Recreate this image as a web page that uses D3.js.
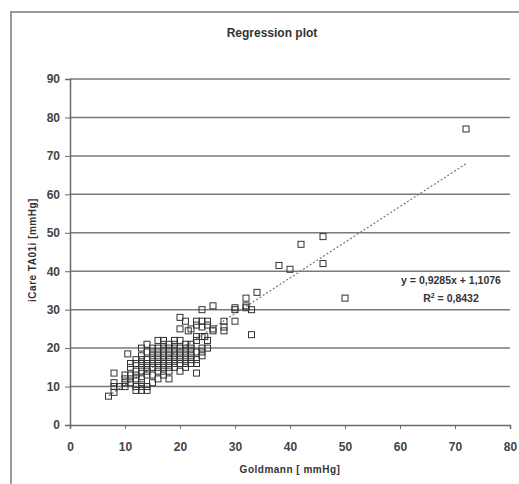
<!DOCTYPE html>
<html lang="en">
<head>
  <meta charset="UTF-8">
  <title>Regression plot</title>
  <style>
    body { margin: 0; background: #fff; }
    text { font-family: "Liberation Sans", Arial, sans-serif; fill: #333; }
    .tick text { font-size: 12px; font-weight: bold; fill: #444; }
  </style>
</head>
<body>
  <div id="app"></div>
  <script src="https://cdn.jsdelivr.net/npm/d3@7"></script>
  <script>
    // Goldmann (x) vs iCare TA01i (y)
    const goldmann = [
      7, 8, 8, 8, 8, 9, 10, 10, 10, 10, 10.5,
      11, 11, 11, 11, 11, 12, 12, 12, 12, 12, 12, 12,
      13, 13, 13, 13, 13, 13, 13, 13, 13, 13,
      14, 14, 14, 14, 14, 14, 14, 14, 14,
      15, 15, 15, 15, 15, 15, 15, 15,
      16, 16, 16, 16, 16, 16, 16, 16, 16,
      17, 17, 17, 17, 17, 17, 17, 17, 17, 17,
      18, 18, 18, 18, 18, 18, 18, 18, 18,
      19, 19, 19, 19, 19, 19, 19, 19,
      20, 20, 20, 20, 20, 20, 20, 20, 20,
      21, 21, 21, 21, 21, 21, 21, 21, 21.5,
      22, 22, 22, 22, 22, 22, 22,
      23, 23, 23, 23, 23, 23, 23, 23,
      24, 24, 24, 24, 24, 24, 24, 24.5,
      25, 25, 25, 25, 26, 26, 26,
      28, 28, 28, 30, 30, 30, 32, 32, 32, 33, 33,
      34, 38, 40, 42, 46, 46, 50, 72
    ]
    const icare = [
      7.5, 8.5, 10, 11, 13.5, 10, 10, 11, 12, 13, 18.5,
      11, 12, 13, 15, 16, 9, 10, 12, 13, 14, 16, 17,
      9, 10, 11, 12, 14, 15, 16, 17, 18, 20,
      9, 10, 13, 14, 15, 16, 17, 19, 21,
      11, 13, 15, 16, 17, 18, 19, 20,
      12, 14, 15, 16, 17, 18, 19, 20, 22,
      13, 14, 15, 16, 17, 18, 19, 20, 21, 22,
      12, 14, 15, 16, 17, 18, 19, 20, 21,
      15, 16, 17, 18, 19, 20, 21, 22,
      14, 16, 17, 18, 19, 20, 22, 25, 28,
      15, 16, 17, 18, 19, 20, 21, 27, 24.5,
      16, 17, 18, 19, 20, 21, 25,
      13.5, 16, 17, 19, 23, 26, 27, 22,
      18, 19, 20, 23, 25.5, 27, 30, 23,
      20, 22, 26, 27, 24.5, 25, 31,
      24.5, 25.5, 27, 27, 30, 30.5, 31, 33, 30.5, 30, 23.5,
      34.5, 41.5, 40.5, 47, 49, 42, 33, 77
    ]
    const xTicks = [0, 10, 20, 30, 40, 50, 60, 70, 80]
    const yTicks = [0, 10, 20, 30, 40, 50, 60, 70, 80, 90]
    const slope = 0.9285
    const intercept = 1.1076
    const trendRange = [7, 72]

    const width = 519, height = 484
    const svg = d3.select('#app').append('svg')
      .attr('width', width)
      .attr('height', height)

    // outer chart frame (only top and left edges show in the picture)
    svg.append('path')
      .attr('d', `M11,${height} V12 H${width}`)
      .attr('fill', 'none')
      .attr('stroke', '#9a9a9a')
      .attr('stroke-width', 2)

    const x = d3.scaleLinear().domain([0, 80]).range([70, 510])
    const y = d3.scaleLinear().domain([0, 90]).range([425, 79])

    // horizontal gridlines
    svg.append('g')
      .selectAll('line')
      .data(yTicks.filter(d => d > 0))
      .enter()
      .append('line')
      .attr('x1', x(0))
      .attr('x2', x(80))
      .attr('y1', d => y(d))
      .attr('y2', d => y(d))
      .attr('stroke', '#7a7a7a')
      .attr('stroke-width', 1.5)

    const yAxis = svg.append('g')
      .attr('transform', `translate(${x(0)},0)`)
      .call(d3.axisLeft(y).tickValues(yTicks).tickSize(5).tickPadding(5))
    const xAxis = svg.append('g')
      .attr('transform', `translate(0,${y(0)})`)
      .call(d3.axisBottom(x).tickValues(xTicks).tickSize(4).tickPadding(13))

    ;[yAxis, xAxis].forEach(a => {
      a.select('.domain').attr('stroke', '#6a6a6a').attr('stroke-width', 1.5)
      a.selectAll('.tick line').attr('stroke', '#6a6a6a')
    })

    // trend line
    svg.append('line')
      .attr('x1', x(trendRange[0]))
      .attr('y1', y(slope * trendRange[0] + intercept))
      .attr('x2', x(trendRange[1]))
      .attr('y2', y(slope * trendRange[1] + intercept))
      .attr('stroke', '#777')
      .attr('stroke-width', 1.2)
      .attr('stroke-dasharray', '2,2')

    // points
    const s = 6
    svg.append('g')
      .selectAll('rect')
      .data(goldmann.map((g, i) => [g, icare[i]]))
      .enter()
      .append('rect')
      .attr('x', d => x(d[0]) - s / 2)
      .attr('y', d => y(d[1]) - s / 2)
      .attr('width', s)
      .attr('height', s)
      .attr('fill', 'none')
      .attr('stroke', '#333')
      .attr('stroke-width', 1)

    // texts
    svg.append('text')
      .attr('x', 272).attr('y', 37)
      .attr('text-anchor', 'middle')
      .style('font-size', '12px').style('font-weight', 'bold')
      .text('Regression plot')

    svg.append('text')
      .attr('x', 290).attr('y', 473)
      .attr('text-anchor', 'middle')
      .style('font-size', '10px').style('font-weight', 'bold')
      .style('letter-spacing', '0.5px')
      .text('Goldmann [ mmHg]')

    svg.append('text')
      .attr('transform', 'translate(36,250) rotate(-90)')
      .attr('text-anchor', 'middle')
      .style('font-size', '10px').style('font-weight', 'bold')
      .style('letter-spacing', '0.5px')
      .text('iCare TA01i [mmHg]')

    const eq = svg.append('g').style('font-size', '10.5px').style('font-weight', 'bold')
    eq.append('text')
      .attr('x', 451).attr('y', 284)
      .attr('text-anchor', 'middle')
      .text('y = 0,9285x + 1,1076')
    const r2 = eq.append('text')
      .attr('x', 451).attr('y', 302)
      .attr('text-anchor', 'middle')
    r2.append('tspan').text('R')
    r2.append('tspan').attr('dy', -4).style('font-size', '7px').text('2')
    r2.append('tspan').attr('dy', 4).text(' = 0,8432')
  </script>
</body>
</html>
